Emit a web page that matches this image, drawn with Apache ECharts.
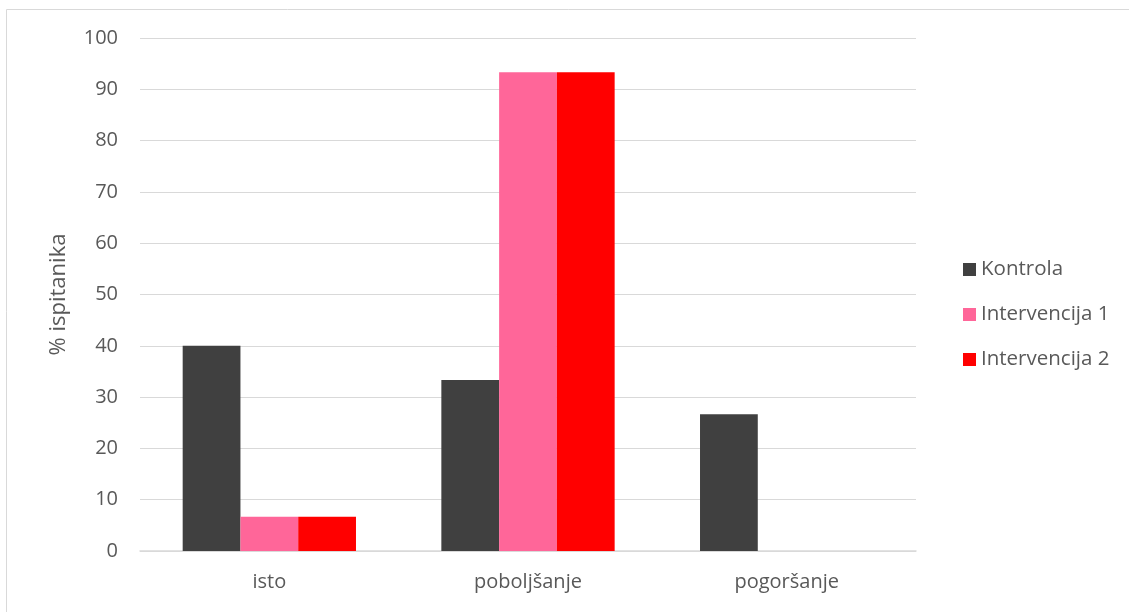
<!DOCTYPE html>
<html><head><meta charset="utf-8">
<script src="https://cdn.jsdelivr.net/npm/echarts@6/dist/echarts.min.js"></script>
<style>html,body{margin:0;padding:0;background:#fff}#c{width:1129px;height:612px}</style>
</head><body><div id="c"></div>
<script>
const categories = ['isto', 'poboljšanje', 'pogoršanje'];
const kontrola = [40, 33.33, 26.67];
const intervencija1 = [6.67, 93.33, 0];
const intervencija2 = [6.67, 93.33, 0];
const seriesNames = ['Kontrola', 'Intervencija 1', 'Intervencija 2'];
const yTicks = [0, 10, 20, 30, 40, 50, 60, 70, 80, 90, 100];

const font = 'Open Sans, Liberation Sans, sans-serif';
const chart = echarts.init(document.getElementById('c'));
chart.setOption({
  animation: false,
  graphic: [{type: 'rect', shape: {x: 6.5, y: 9.5, width: 1140, height: 620}, style: {fill: 'none', stroke: '#d9d9d9', lineWidth: 1}}],
  grid: {left: 140, right: 213, top: 38, bottom: 61},
  legend: {
    orient: 'vertical', left: 958, top: 254, itemGap: 24, itemWidth: 13, itemHeight: 13,
    icon: 'rect', textStyle: {fontFamily: font, fontSize: 20.5, color: '#595959'},
    data: seriesNames
  },
  xAxis: {
    type: 'category', data: categories,
    axisLine: {lineStyle: {color: '#d9d9d9', width: 1.5}},
    axisTick: {show: false},
    axisLabel: {fontFamily: font, fontSize: 20, color: '#595959', margin: 21}
  },
  yAxis: {
    type: 'value', min: yTicks[0], max: yTicks[yTicks.length - 1], interval: 10,
    name: '% ispitanika', nameLocation: 'middle', nameGap: 70, nameRotate: 90,
    nameTextStyle: {fontFamily: font, fontSize: 22, color: '#595959'},
    axisLine: {show: false}, axisTick: {show: false},
    axisLabel: {fontFamily: font, fontSize: 20, color: '#595959', margin: 22},
    splitLine: {lineStyle: {color: '#d9d9d9', width: 1}}
  },
  series: [
    {name: seriesNames[0], type: 'bar', data: kontrola, itemStyle: {color: '#404040'}, barGap: '0%', barCategoryGap: '33%'},
    {name: seriesNames[1], type: 'bar', data: intervencija1, itemStyle: {color: '#ff6699'}},
    {name: seriesNames[2], type: 'bar', data: intervencija2, itemStyle: {color: '#ff0000'}}
  ]
});
</script></body></html>
